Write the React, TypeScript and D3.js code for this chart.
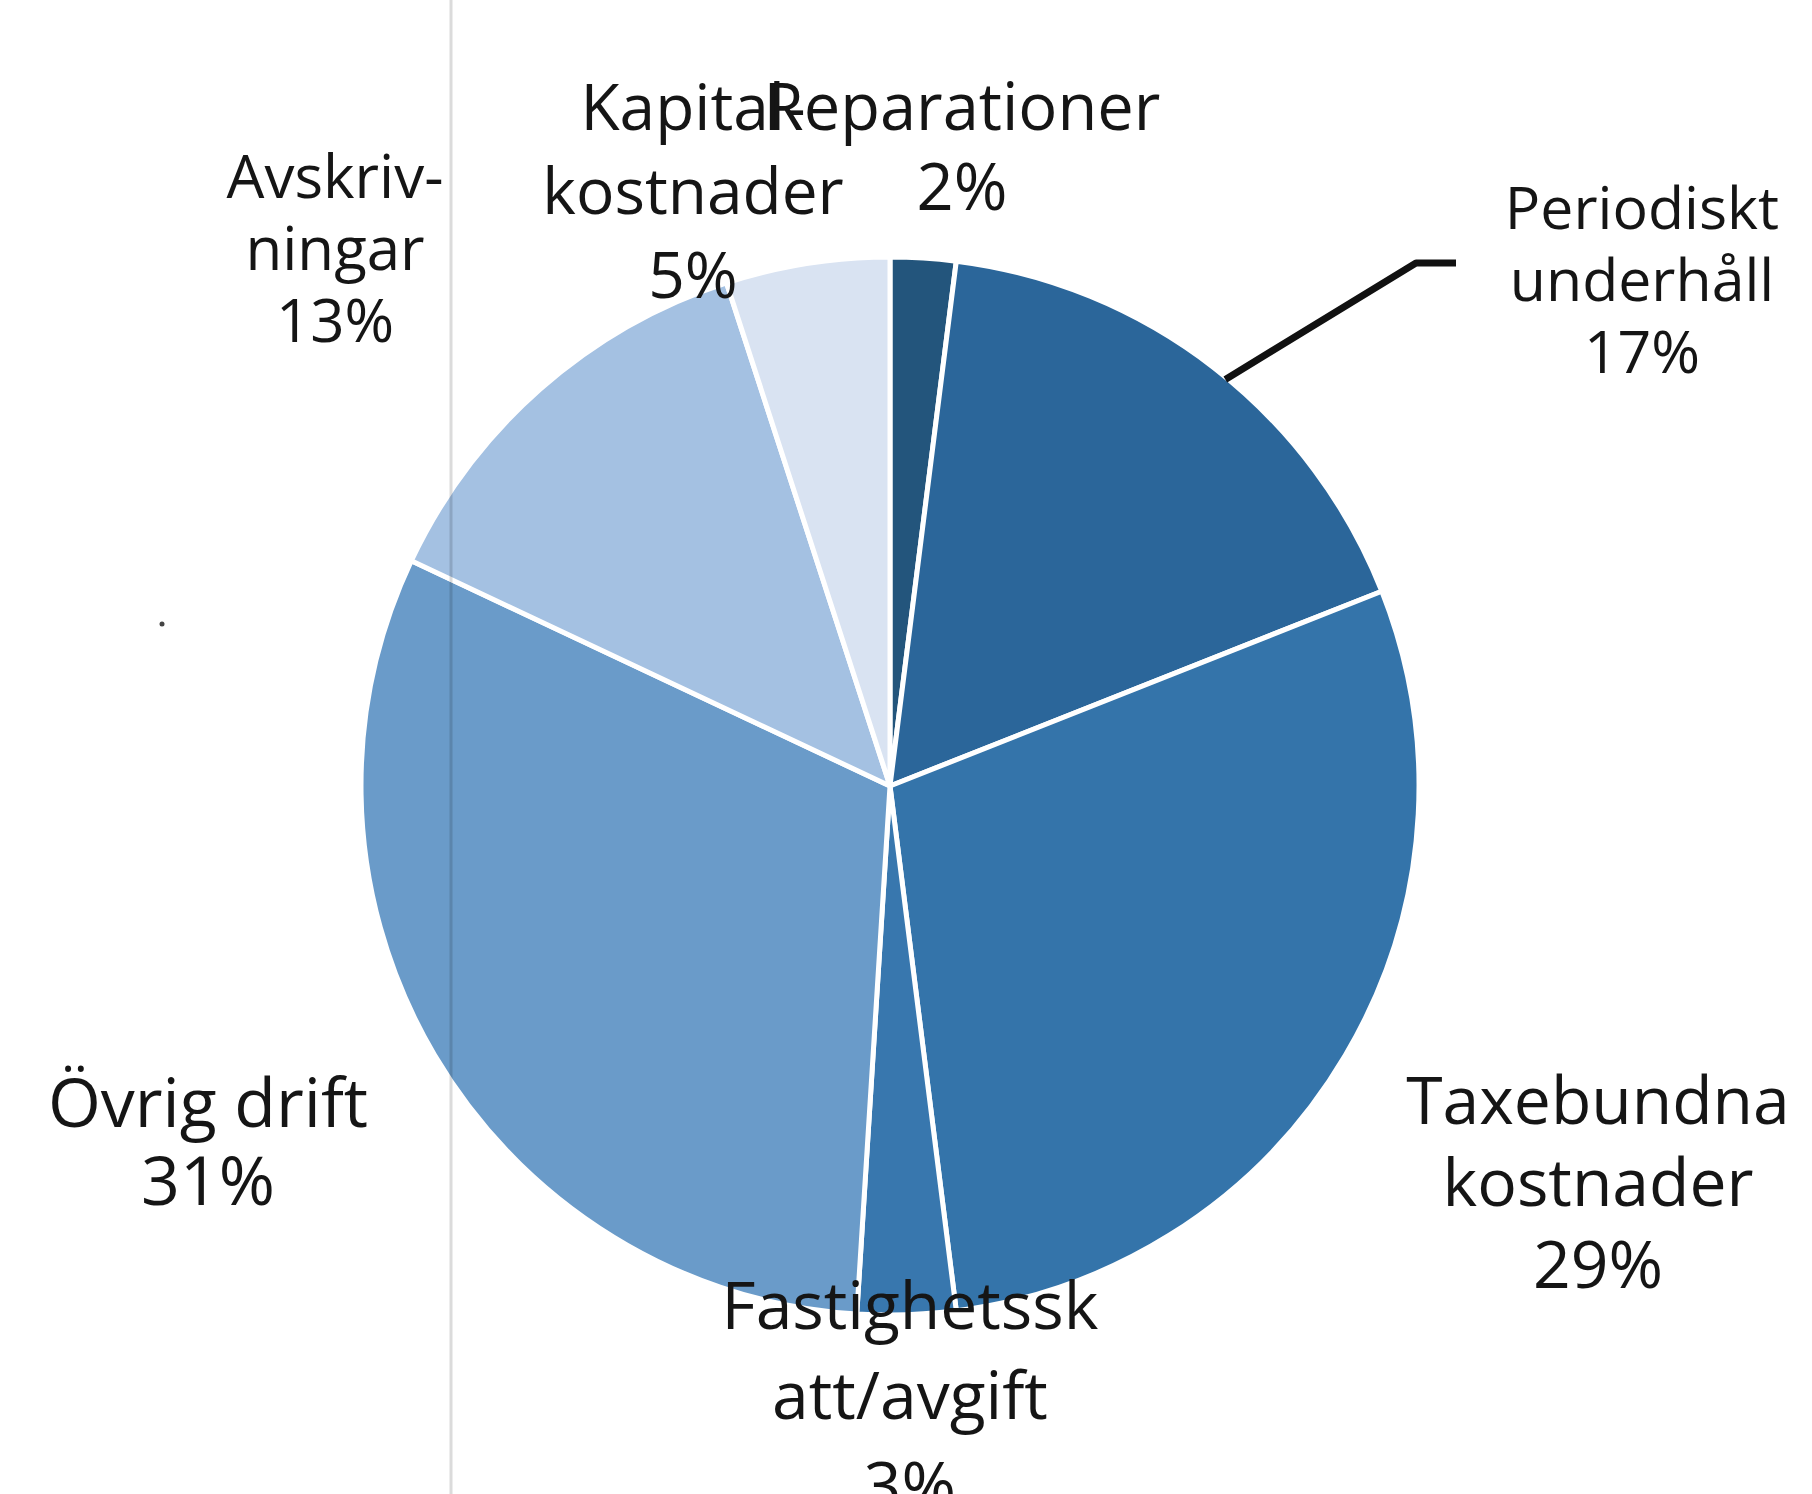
import React, { useRef, useEffect } from "react";
import { select, pie, arc } from "d3";

// cost shares, clockwise from 12 o'clock
const categories = [
  "Reparationer",
  "Periodiskt underhåll",
  "Taxebundna kostnader",
  "Fastighetsskatt/avgift",
  "Övrig drift",
  "Avskrivningar",
  "Kapitalkostnader",
];
const shares = [2, 17, 29, 3, 31, 13, 5];
const labelLines = [
  ["Reparationer", "2%"],
  ["Periodiskt", "underhåll", "17%"],
  ["Taxebundna", "kostnader", "29%"],
  ["Fastighetssk", "att/avgift", "3%"],
  ["Övrig drift", "31%"],
  ["Avskriv-", "ningar", "13%"],
  ["Kapital-", "kostnader", "5%"],
];
const colors = ["#23557c", "#2b669a", "#3474aa", "#3877ae", "#6a9bc9", "#a4c1e2", "#d9e3f2"];

// label layout: centre x, first baseline, font size, line step
const labelPos = [
  [962, 130],
  [1642, 229],
  [1598, 1124],
  [910, 1329],
  [208, 1127],
  [335, 198],
  [693, 130],
];
const labelSize = [65, 59, 66, 66, 68, 60, 64];
const labelLead = [80, 72, 82, 90, 78, 72, 84];

const WIDTH = 1812;
const HEIGHT = 1494;
const cx = 890;
const cy = 786;
const radius = 529;

function CostPie() {
  const svgRef = useRef(null);

  useEffect(() => {
    const svg = select(svgRef.current);
    svg.selectAll("*").remove();

    const data = categories.map((name, i) => ({ name, value: shares[i], index: i }));
    const slices = pie().sort(null).value((d) => d.value)(data);
    const arcGen = arc().innerRadius(0).outerRadius(radius);

    const g = svg.append("g").attr("transform", `translate(${cx},${cy})`);

    g.selectAll(".slice")
      .data(slices)
      .join("path")
      .attr("class", "slice")
      .attr("d", arcGen)
      .attr("fill", (d) => colors[d.data.index])
      .attr("stroke", "#ffffff")
      .attr("stroke-width", 5)
      .attr("stroke-linejoin", "round");

    // leader line for "Periodiskt underhåll"
    const per = slices[1];
    const mid = (per.startAngle + per.endAngle) / 2 + 0.03;
    const start = [Math.sin(mid) * (radius - 2) + cx, -Math.cos(mid) * (radius - 2) + cy];
    const elbow = [labelPos[1][0] - 226, labelPos[1][1] + 34];
    const end = [labelPos[1][0] - 186, labelPos[1][1] + 34];
    svg
      .append("path")
      .attr("d", `M${start[0]},${start[1]}L${elbow[0]},${elbow[1]}L${end[0]},${end[1]}`)
      .attr("fill", "none")
      .attr("stroke", "#111")
      .attr("stroke-width", 7)
      .attr("stroke-linejoin", "round");

    // labels
    const labels = svg
      .selectAll(".label")
      .data(labelLines)
      .join("text")
      .attr("class", "label")
      .attr("text-anchor", "middle")
      .attr("font-family", "'Open Sans', 'Noto Sans', sans-serif")
      .attr("font-size", (d, i) => labelSize[i])
      .attr("fill", "#151515");

    labels
      .selectAll("tspan")
      .data((lines, i) => lines.map((t) => ({ t, i })))
      .join("tspan")
      .attr("x", (d) => labelPos[d.i][0])
      .attr("y", (d, j) => labelPos[d.i][1] + j * labelLead[d.i])
      .text((d) => d.t);

    // page fold from the scan
    svg
      .append("line")
      .attr("x1", 451)
      .attr("x2", 451)
      .attr("y1", 0)
      .attr("y2", HEIGHT)
      .attr("stroke", "#000")
      .attr("stroke-opacity", 0.14)
      .attr("stroke-width", 3);
    svg.append("circle").attr("cx", 162).attr("cy", 624).attr("r", 2.5).attr("fill", "#444");
  }, []);

  return (
    <svg
      ref={svgRef}
      width={WIDTH}
      height={HEIGHT}
      style={{ position: "absolute", left: 0, top: 0, background: "#fff" }}
    ></svg>
  );
}

export default function App() {
  return <CostPie />;
}
